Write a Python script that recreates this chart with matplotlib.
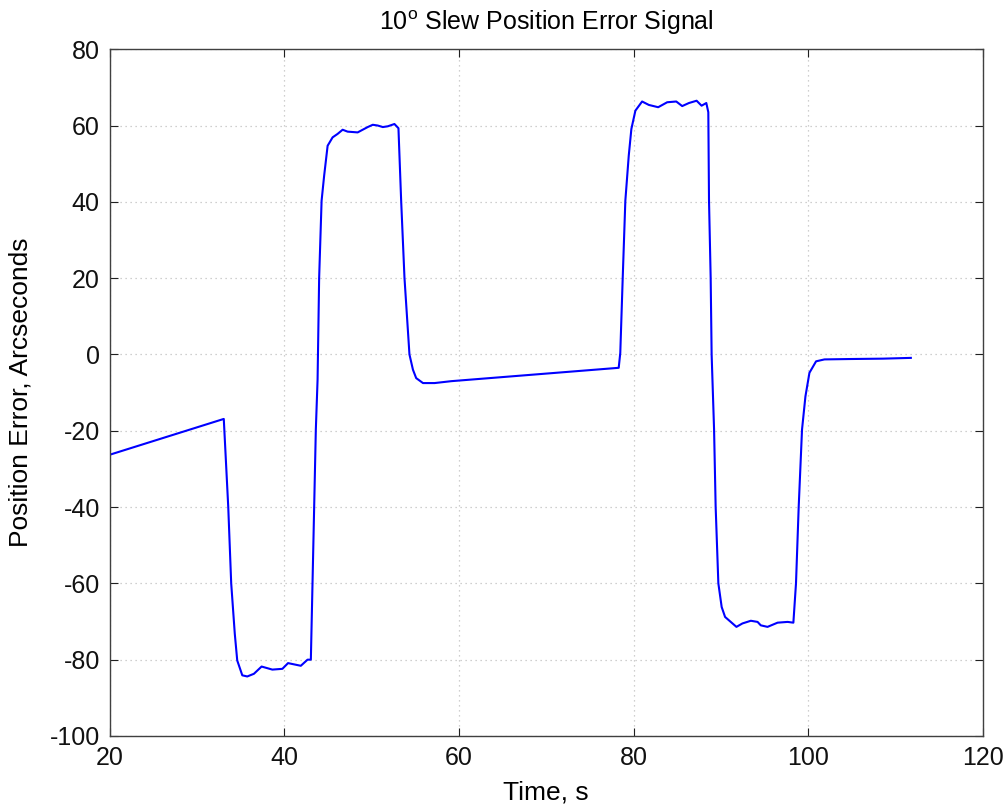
import matplotlib
matplotlib.use("Agg")
import matplotlib.pyplot as plt

plt.rcParams['font.family'] = ['Liberation Sans', 'DejaVu Sans']
plt.rcParams['axes.unicode_minus'] = False

time_s = [20.0, 33.08, 33.59, 33.93, 34.34, 34.62, 35.2, 35.77, 36.53, 37.41, 38.64, 39.79,
          40.44, 41.9, 42.67, 43.05, 43.24, 43.43, 43.62, 43.82, 44.0, 44.28, 44.57, 44.97,
          45.54, 46.11, 46.69, 47.26, 48.41, 49.56, 50.14, 50.71, 51.29, 51.86, 52.62, 53.08,
          53.39, 53.77, 54.34, 54.74, 55.11, 55.89, 57.22, 59.14, 78.3, 78.48, 78.76, 79.06,
          79.45, 79.75, 80.21, 80.98, 81.75, 82.82, 83.85, 84.89, 85.57, 86.34, 87.22, 87.79,
          88.33, 88.56, 88.64, 88.83, 88.94, 89.22, 89.4, 89.71, 90.09, 90.48, 91.13, 91.78,
          92.47, 93.43, 94.2, 94.57, 95.34, 96.49, 97.64, 98.3, 98.6, 98.91, 99.29, 99.68,
          100.14, 100.9, 101.86, 104.74, 108.56, 111.75]
error_arcsec = [-26.3, -16.9, -39.9, -60.0, -73.2, -80.2, -84.1, -84.4, -83.7, -81.8, -82.6, -82.4,
                -80.9, -81.6, -80.0, -80.0, -60.0, -39.9, -19.7, -6.6, 20.1, 40.3, 46.8, 54.7,
                56.9, 57.8, 58.9, 58.4, 58.2, 59.6, 60.2, 60.0, 59.6, 59.8, 60.4, 59.3,
                40.3, 20.1, 0.0, -4.0, -6.2, -7.5, -7.5, -7.0, -3.5, 0.4, 20.1, 40.3,
                52.1, 59.1, 63.9, 66.3, 65.4, 64.8, 66.1, 66.3, 65.1, 65.9, 66.5, 65.2,
                65.9, 63.5, 40.3, 20.1, 0.0, -19.7, -39.9, -60.0, -66.2, -68.8, -70.1, -71.4,
                -70.5, -69.8, -70.1, -71.0, -71.4, -70.3, -70.1, -70.3, -60.0, -39.9, -19.7, -11.0,
                -4.8, -1.8, -1.3, -1.2, -1.1, -0.9]

x_ticks = [20, 40, 60, 80, 100, 120]
y_ticks = [-100, -80, -60, -40, -20, 0, 20, 40, 60, 80]

fig = plt.figure(figsize=(10.05, 8.07), dpi=100)
ax = fig.add_axes([0.109, 0.088, 0.869, 0.851])
ax.plot(time_s, error_arcsec, color='#0000ff', lw=1.5)
ax.set_xlim(20, 120)
ax.set_ylim(-100, 80)
ax.set_xticks(x_ticks)
ax.set_yticks(y_ticks)
ax.grid(True, linestyle=(0, (1, 3)), color='#c0c0c0', lw=0.9)
ax.tick_params(direction='in', top=True, right=True, labelsize=18, length=6, pad=7,
               colors='#202020', labelcolor='#111111')
for s in ax.spines.values():
    s.set_color('#404040')
    s.set_linewidth(1.0)
ax.set_title(r'10$^\mathregular{o}$ Slew Position Error Signal', fontsize=18, pad=14)
ax.set_xlabel('Time, s', fontsize=19, labelpad=8)
ax.set_ylabel('Position Error, Arcseconds', fontsize=19, labelpad=12)
fig.savefig('out.png', dpi=100, facecolor='white')
